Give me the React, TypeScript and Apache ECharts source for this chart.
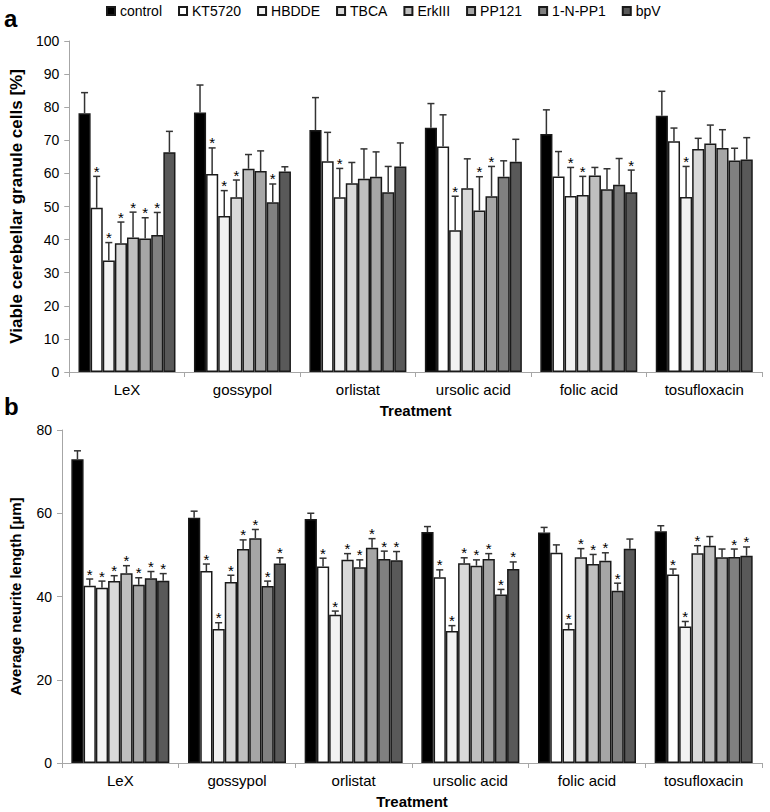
import React, { useEffect, useRef } from "react";
import * as echarts from "echarts";

const groups = ["LeX", "gossypol", "orlistat", "ursolic acid", "folic acid", "tosufloxacin"];
const treatments = ["control", "KT5720", "HBDDE", "TBCA", "ErkIII", "PP121", "1-N-PP1", "bpV"];

// Panel a: viable cerebellar granule cells [%] (rows = treatments, cols = groups)
const viabilityMean = [
  [78.2, 78.4, 73.1, 73.8, 71.9, 77.4],
  [49.6, 59.8, 63.7, 68.1, 59.1, 69.7],
  [33.7, 47.1, 52.8, 42.8, 53.2, 52.9],
  [38.9, 52.8, 57.0, 55.5, 53.5, 67.4],
  [40.6, 61.4, 58.4, 48.8, 59.4, 69.0],
  [40.3, 60.7, 59.0, 53.1, 55.2, 67.7],
  [41.4, 51.3, 54.3, 59.0, 56.6, 63.9],
  [66.4, 60.6, 62.1, 63.5, 54.3, 64.2],
];
const viabilityErr = [
  [6.2, 8.3, 9.8, 7.3, 7.3, 7.4],
  [9.5, 7.9, 8.7, 9.6, 7.5, 4.0],
  [5.4, 7.7, 8.7, 10.3, 8.6, 9.2],
  [6.4, 5.2, 6.3, 8.9, 5.6, 3.2],
  [7.7, 4.3, 9.0, 10.2, 2.4, 5.6],
  [6.3, 6.1, 7.5, 9.0, 6.2, 5.5],
  [6.8, 5.5, 7.8, 4.8, 7.9, 3.7],
  [6.3, 1.4, 7.1, 6.8, 6.7, 6.6],
];
const viabilitySig = [
  [0, 0, 0, 0, 0, 0],
  [1, 1, 0, 0, 0, 0],
  [1, 1, 1, 1, 1, 1],
  [1, 1, 0, 0, 1, 0],
  [1, 0, 0, 1, 0, 0],
  [1, 0, 0, 1, 0, 0],
  [1, 1, 0, 0, 0, 0],
  [0, 0, 0, 0, 1, 0],
];

// Panel b: average neurite length [µm]
const neuriteMean = [
  [73.0, 58.9, 58.6, 55.5, 55.4, 55.7],
  [42.6, 46.1, 47.2, 44.6, 50.5, 45.3],
  [42.1, 32.2, 35.6, 31.7, 32.2, 32.8],
  [43.7, 43.5, 48.8, 48.0, 49.4, 50.4],
  [45.6, 51.4, 47.0, 47.4, 47.8, 52.2],
  [42.8, 54.0, 51.7, 49.0, 48.6, 49.4],
  [44.4, 42.5, 49.0, 40.5, 41.4, 49.5],
  [43.8, 47.9, 48.7, 46.6, 51.5, 49.8],
];
const neuriteErr = [
  [2.0, 1.6, 1.4, 1.3, 1.2, 1.3],
  [1.6, 1.7, 2.0, 1.8, 1.9, 1.3],
  [1.6, 1.5, 0.9, 1.3, 1.2, 1.2],
  [1.3, 1.6, 1.5, 1.3, 2.1, 1.8],
  [1.8, 2.2, 1.8, 1.4, 2.3, 2.2],
  [1.7, 2.1, 2.2, 1.3, 1.9, 2.0],
  [1.6, 1.2, 1.9, 1.2, 1.8, 1.9],
  [1.7, 1.4, 2.1, 1.7, 2.3, 2.1],
];
const neuriteSig = [
  [0, 0, 0, 0, 0, 0],
  [1, 1, 1, 1, 0, 1],
  [1, 1, 1, 1, 1, 1],
  [1, 1, 1, 1, 1, 1],
  [1, 1, 1, 1, 1, 0],
  [1, 1, 1, 1, 1, 0],
  [1, 1, 1, 1, 1, 1],
  [1, 1, 1, 1, 0, 1],
];

const viabilityTicks = { min: 0, max: 100, interval: 10 };
const neuriteTicks = { min: 0, max: 80, interval: 20 };

const FILLS = ["#000000", "#ffffff", "#f2f2f2", "#d9d9d9", "#bfbfbf", "#a6a6a6", "#808080", "#595959"];
const FONT = "'Liberation Sans', Arial, sans-serif";
const CAT_GAP = 0.16;
const AXIS_GREY = "#a6a6a6";

function buildErrData(mean: number[][], err: number[][], sig: number[][]) {
  const out: number[][] = [];
  mean.forEach((row, s) => {
    row.forEach((v, c) => {
      out.push([c, s, v, err[s][c], sig[s][c]]);
    });
  });
  return out;
}

function renderErr(params: any, api: any) {
  const cat = api.value(0);
  const s = api.value(1);
  const m = api.value(2);
  const e = api.value(3);
  const st = api.value(4);
  const band = api.size([1, 0])[0];
  const bw = (band * (1 - CAT_GAP)) / treatments.length;
  const base = api.coord([cat, m]);
  const cx = base[0] + (s - (treatments.length - 1) / 2) * bw;
  const y0 = base[1];
  const y1 = api.coord([cat, m + e])[1];
  const stroke = { stroke: "#333333", lineWidth: 1.5 };
  const children: any[] = [
    { type: "line", shape: { x1: cx, y1: y0, x2: cx, y2: y1 }, style: stroke },
    { type: "line", shape: { x1: cx - 3.5, y1: y1, x2: cx + 3.5, y2: y1 }, style: stroke },
  ];
  if (st) {
    children.push({
      type: "text",
      x: cx,
      y: y1 - 5,
      style: {
        text: "*",
        fontSize: 15,
        fontFamily: FONT,
        fill: "#000",
        align: "center",
        verticalAlign: "middle",
      },
    });
  }
  return { type: "group", children };
}

export default function App() {
  const ref = useRef<HTMLDivElement>(null);
  useEffect(() => {
    if (!ref.current) return;
    const chart = echarts.init(ref.current, null, { renderer: "svg" });

    const xAxisBase = (gi: number) => ({
      type: "category",
      gridIndex: gi,
      data: groups,
      axisLine: { lineStyle: { color: AXIS_GREY, width: 1 } },
      axisTick: { show: true, alignWithLabel: false, length: 5, lineStyle: { color: AXIS_GREY } },
      axisLabel: { interval: 0, color: "#000", fontSize: 15, fontFamily: FONT, margin: 10 },
      name: "Treatment",
      nameLocation: "middle",
      nameGap: 31,
      nameTextStyle: { color: "#000", fontWeight: "bold", fontSize: 15, fontFamily: FONT },
    });

    const yAxisBase = (gi: number, name: string, ticks: any, nameSize: number) => ({
      type: "value",
      gridIndex: gi,
      min: ticks.min,
      max: ticks.max,
      interval: ticks.interval,
      splitLine: { show: false },
      axisLine: { show: true, lineStyle: { color: AXIS_GREY, width: 1 } },
      axisTick: { show: true, length: 5, lineStyle: { color: AXIS_GREY } },
      axisLabel: { color: "#000", fontSize: 14, fontFamily: FONT, margin: 10 },
      name,
      nameLocation: "middle",
      nameGap: 39,
      nameTextStyle: { color: "#000", fontWeight: "bold", fontSize: nameSize, fontFamily: FONT },
    });

    const barSeries = (gi: number, means: number[][]) =>
      treatments.map((t, i) => ({
        type: "bar",
        name: t,
        xAxisIndex: gi,
        yAxisIndex: gi,
        data: means[i],
        barGap: "0%",
        barCategoryGap: CAT_GAP * 100 + "%",
        itemStyle: { color: FILLS[i], borderColor: "#1a1a1a", borderWidth: 1.5 },
      }));

    chart.setOption({
      animation: false,
      backgroundColor: "#ffffff",
      textStyle: { fontFamily: FONT },
      legend: {
        data: treatments,
        top: 4,
        left: 106,
        itemWidth: 8,
        itemHeight: 8,
        itemGap: 16,
        padding: 0,
        icon: "rect",
        textStyle: { color: "#000", fontSize: 14, fontFamily: FONT },
      },
      grid: [
        { left: 56, right: 8, top: 41, height: 331 },
        { left: 56, right: 8, top: 430, height: 333 },
      ],
      xAxis: [xAxisBase(0), xAxisBase(1)],
      yAxis: [
        yAxisBase(0, "Viable cerebellar granule cells [%]", viabilityTicks, 17),
        yAxisBase(1, "Average neurite length [µm]", neuriteTicks, 15),
      ],
      graphic: [
        { type: "text", left: 4, top: 6, style: { text: "a", fontSize: 24, fontWeight: "bold", fontFamily: FONT, fill: "#000" } },
        { type: "text", left: 4, top: 394, style: { text: "b", fontSize: 24, fontWeight: "bold", fontFamily: FONT, fill: "#000" } },
      ],
      series: [
        ...barSeries(0, viabilityMean),
        ...barSeries(1, neuriteMean),
        {
          type: "custom",
          name: "errA",
          xAxisIndex: 0,
          yAxisIndex: 0,
          z: 3,
          encode: { x: 0, y: 2 },
          data: buildErrData(viabilityMean, viabilityErr, viabilitySig),
          renderItem: renderErr,
        },
        {
          type: "custom",
          name: "errB",
          xAxisIndex: 1,
          yAxisIndex: 1,
          z: 3,
          encode: { x: 0, y: 2 },
          data: buildErrData(neuriteMean, neuriteErr, neuriteSig),
          renderItem: renderErr,
        },
      ],
    });
    return () => chart.dispose();
  }, []);
  return (
    <div
      ref={ref}
      style={{ position: "absolute", left: 0, top: 0, width: 770, height: 812, background: "#fff" }}
    />
  );
}
